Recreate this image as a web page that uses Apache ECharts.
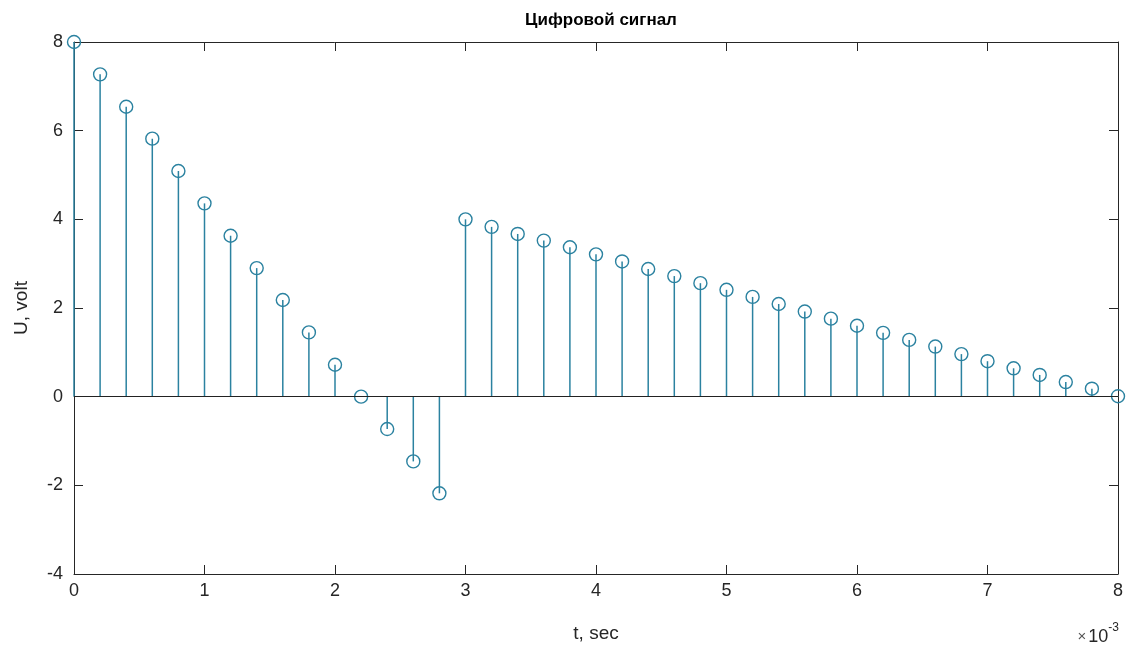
<!DOCTYPE html>
<html>
<head>
<meta charset="utf-8">
<title>Цифровой сигнал</title>
<script src="https://cdn.jsdelivr.net/npm/echarts@6/dist/echarts.min.js"></script>
<style>
  html, body { margin: 0; padding: 0; background: #fff; }
  #chart { width: 1133px; height: 650px; }
</style>
</head>
<body>
<div id="chart"></div>
<script>
// time in units of 1e-3 s
const tValues = [
  0, 0.2, 0.4, 0.6, 0.8, 1.0, 1.2, 1.4, 1.6, 1.8,
  2.0, 2.2, 2.4, 2.6, 2.8, 3.0, 3.2, 3.4, 3.6, 3.8,
  4.0, 4.2, 4.4, 4.6, 4.8, 5.0, 5.2, 5.4, 5.6, 5.8,
  6.0, 6.2, 6.4, 6.6, 6.8, 7.0, 7.2, 7.4, 7.6, 7.8, 8.0
]
// signal, volt
const uValues = [
  8.0, 7.27, 6.54, 5.82, 5.09, 4.36, 3.63, 2.9, 2.18, 1.45,
  0.72, 0, -0.73, -1.46, -2.18, 4.0, 3.83, 3.67, 3.52, 3.37,
  3.21, 3.05, 2.88, 2.72, 2.56, 2.41, 2.25, 2.09, 1.92, 1.76,
  1.6, 1.44, 1.28, 1.13, 0.96, 0.8, 0.64, 0.49, 0.33, 0.18, 0.01
]
const xTicks = ['0', '1', '2', '3', '4', '5', '6', '7', '8']
const yTicks = ['-4', '-2', '0', '2', '4', '6', '8']

const stemColor = '#2b82a0'
const axisColor = '#262626'
const font = 'Liberation Sans, Arial, Helvetica, sans-serif'

let points = tValues.map((t, i) => [t, uValues[i]])

let chartDom = document.getElementById('chart')
let myChart = echarts.init(chartDom)

let option = {
  animation: false,
  backgroundColor: '#fff',
  title: {
    text: 'Цифровой сигнал',
    left: 596,
    textAlign: 'center',
    top: 7,
    textStyle: {
      fontFamily: font,
      fontSize: 17,
      fontWeight: 'bold',
      color: '#000'
    }
  },
  grid: {
    left: 74,
    right: 15,
    top: 42,
    bottom: 76
  },
  xAxis: [
    {
      type: 'value',
      min: 0,
      max: 8,
      interval: 1,
      name: 't, sec',
      nameLocation: 'middle',
      nameGap: 50,
      nameTextStyle: { fontFamily: font, fontSize: 19, color: axisColor },
      axisLine: { show: true, onZero: false, lineStyle: { color: axisColor, width: 1 } },
      axisTick: { show: true, inside: true, length: 9, lineStyle: { color: axisColor } },
      axisLabel: {
        fontFamily: font,
        fontSize: 18,
        color: axisColor,
        margin: 8,
        formatter: (v) => xTicks[Math.round(v)]
      },
      splitLine: { show: false }
    },
    {
      type: 'value',
      position: 'top',
      min: 0,
      max: 8,
      interval: 1,
      axisLine: { show: true, onZero: false, lineStyle: { color: axisColor, width: 1 } },
      axisTick: { show: true, inside: true, length: 9, lineStyle: { color: axisColor } },
      axisLabel: { show: false },
      splitLine: { show: false }
    }
  ],
  yAxis: [
    {
      type: 'value',
      min: -4,
      max: 8,
      interval: 2,
      name: 'U, volt',
      nameLocation: 'middle',
      nameGap: 43,
      nameTextStyle: { fontFamily: font, fontSize: 19, color: axisColor },
      axisLine: { show: true, onZero: false, lineStyle: { color: axisColor, width: 1 } },
      axisTick: { show: true, inside: true, length: 9, lineStyle: { color: axisColor } },
      axisLabel: {
        fontFamily: font,
        fontSize: 18,
        color: axisColor,
        margin: 11,
        formatter: (v) => yTicks[Math.round((v + 4) / 2)]
      },
      splitLine: { show: false }
    },
    {
      type: 'value',
      position: 'right',
      min: -4,
      max: 8,
      interval: 2,
      axisLine: { show: true, onZero: false, lineStyle: { color: axisColor, width: 1 } },
      axisTick: { show: true, inside: true, length: 9, lineStyle: { color: axisColor } },
      axisLabel: { show: false },
      splitLine: { show: false }
    }
  ],
  graphic: [
    {
      type: 'text',
      right: 14,
      top: 622,
      style: {
        text: '{a|×}{b|10}{c|-3}',
        rich: {
          a: { fontFamily: font, fontSize: 15, fill: '#555', padding: [6, 2, 0, 0] },
          b: { fontFamily: font, fontSize: 18, fill: axisColor, padding: [6, 0, 0, 0] },
          c: { fontFamily: font, fontSize: 12, fill: axisColor, verticalAlign: 'top', padding: [0, 0, 8, 0] }
        }
      }
    }
  ],
  series: [
    {
      // stems
      type: 'custom',
      xAxisIndex: 0,
      yAxisIndex: 0,
      data: points,
      renderItem: function (params, api) {
        let top = api.coord([api.value(0), api.value(1)])
        let base = api.coord([api.value(0), 0])
        return {
          type: 'line',
          shape: { x1: top[0], y1: top[1], x2: base[0], y2: base[1] },
          style: { stroke: stemColor, lineWidth: 1.5 }
        }
      },
      z: 2
    },
    {
      // markers + baseline
      type: 'scatter',
      xAxisIndex: 0,
      yAxisIndex: 0,
      data: points,
      symbol: 'circle',
      symbolSize: 13,
      itemStyle: { color: 'rgba(255,255,255,0)', borderColor: stemColor, borderWidth: 1.4, opacity: 1 },
      markLine: {
        silent: true,
        symbol: 'none',
        label: { show: false },
        lineStyle: { color: '#222', width: 1, type: 'solid' },
        data: [{ yAxis: 0 }]
      },
      z: 3
    }
  ]
}

myChart.setOption(option)
</script>
</body>
</html>
